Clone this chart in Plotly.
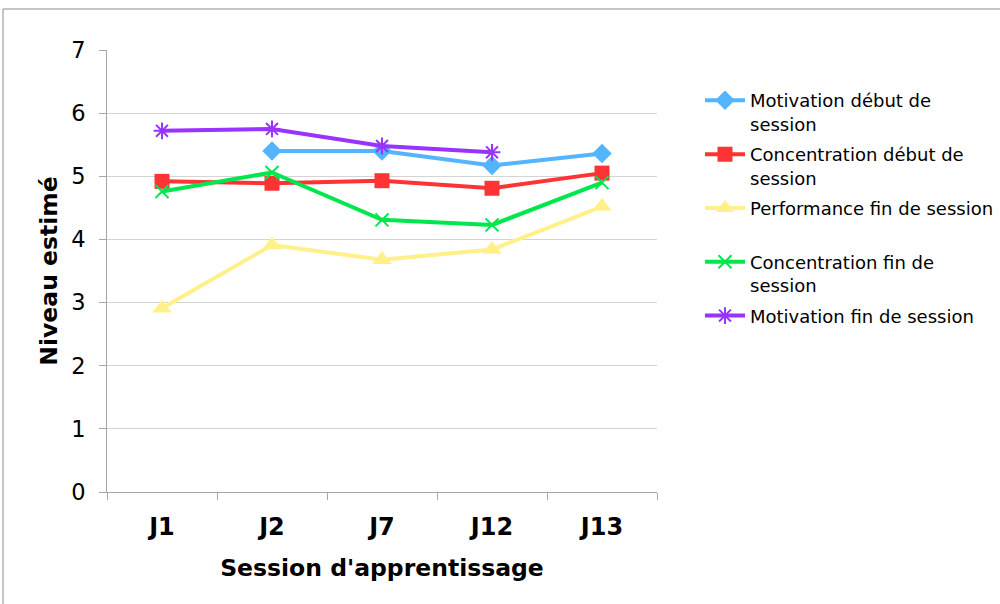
import plotly.graph_objects as go

categories = ["J1", "J2", "J7", "J12", "J13"]
motivation_debut = [None, 5.40, 5.40, 5.17, 5.36]
concentration_debut = [4.92, 4.89, 4.93, 4.81, 5.05]
performance_fin = [2.91, 3.91, 3.68, 3.84, 4.52]
concentration_fin = [4.76, 5.06, 4.31, 4.23, 4.90]
motivation_fin = [5.72, 5.75, 5.48, 5.38, None]

series_names = [
    "Motivation début de<br>session",
    "Concentration début de<br>session",
    "Performance fin de session<br> ",
    "Concentration fin de<br>session",
    "Motivation fin de session",
]
y_ticks = [0, 1, 2, 3, 4, 5, 6, 7]

fig = go.Figure()

styles = [
    (motivation_debut, "#55B4FF", dict(symbol="diamond", size=15)),
    (concentration_debut, "#FF3333", dict(symbol="square", size=15)),
    (performance_fin, "#FFF08A", dict(symbol="triangle-up", size=17)),
    (concentration_fin, "#00E64D", dict(symbol="x-thin-open", size=13, line=dict(width=2, color="#00E64D"))),
    (motivation_fin, "#9933FF", dict(symbol="asterisk-open", size=14, line=dict(width=2, color="#9933FF"))),
]

for i, ((vals, color, mk), name) in enumerate(zip(styles, series_names)):
    mk = dict(mk)
    mk.setdefault("color", color)
    fig.add_trace(go.Scatter(
        x=categories, y=vals, name=name, mode="lines+markers", legendgroup=f"g{i}",
        line=dict(color=color, width=4), marker=mk, connectgaps=False,
    ))

font_family = "DejaVu Sans, Verdana, sans-serif"

fig.update_layout(
    width=1000, height=604,
    paper_bgcolor="white", plot_bgcolor="white",
    margin=dict(l=107, r=343, t=50, b=112),
    font=dict(family=font_family, color="black"),
    showlegend=True,
    legend=dict(
        xref="container", yref="container",
        x=0.7, y=0.864, xanchor="left", yanchor="top",
        font=dict(size=18, family=font_family, color="black"),
        valign="top", tracegroupgap=4, itemwidth=40,
        bgcolor="rgba(0,0,0,0)",
    ),
    xaxis=dict(
        type="category", categoryorder="array", categoryarray=categories,
        showline=True, linecolor="#A6A6A6", linewidth=1,
        ticks="outside", tickson="boundaries", ticklen=7, tickcolor="#A6A6A6",
        showgrid=False, zeroline=False,
        tickfont=dict(size=24, family=font_family, weight="bold"),
        ticklabelstandoff=13,
        title=dict(text="Session d'apprentissage", font=dict(size=23.5, family=font_family, weight="bold"), standoff=19),
        range=[-0.5, 4.5],
    ),
    yaxis=dict(
        range=[0, 7], tickvals=y_ticks, showline=True, linecolor="#A6A6A6", linewidth=1,
        ticks="outside", ticklen=7, tickcolor="#A6A6A6",
        showgrid=True, gridcolor="#D4D4D4", gridwidth=1, zeroline=False,
        tickfont=dict(size=22.5, family=font_family),
        ticklabelstandoff=9,
        title=dict(text="Niveau estimé", font=dict(size=23.5, family=font_family, weight="bold"), standoff=6),
    ),
    shapes=[
        dict(type="line", xref="paper", yref="paper",
             x0=(3 - 107) / 550, x1=(1000 - 107) / 550, y0=(492 - 9) / 442, y1=(492 - 9) / 442,
             line=dict(color="#8C8C8C", width=1)),
        dict(type="line", xref="paper", yref="paper",
             x0=(3 - 107) / 550, x1=(3 - 107) / 550, y0=(492 - 9) / 442, y1=(492 - 604) / 442,
             line=dict(color="#8C8C8C", width=1)),
    ],
)

fig.write_html("out.html", config={"displayModeBar": False},
               post_script="document.body.style.margin='0px';")
